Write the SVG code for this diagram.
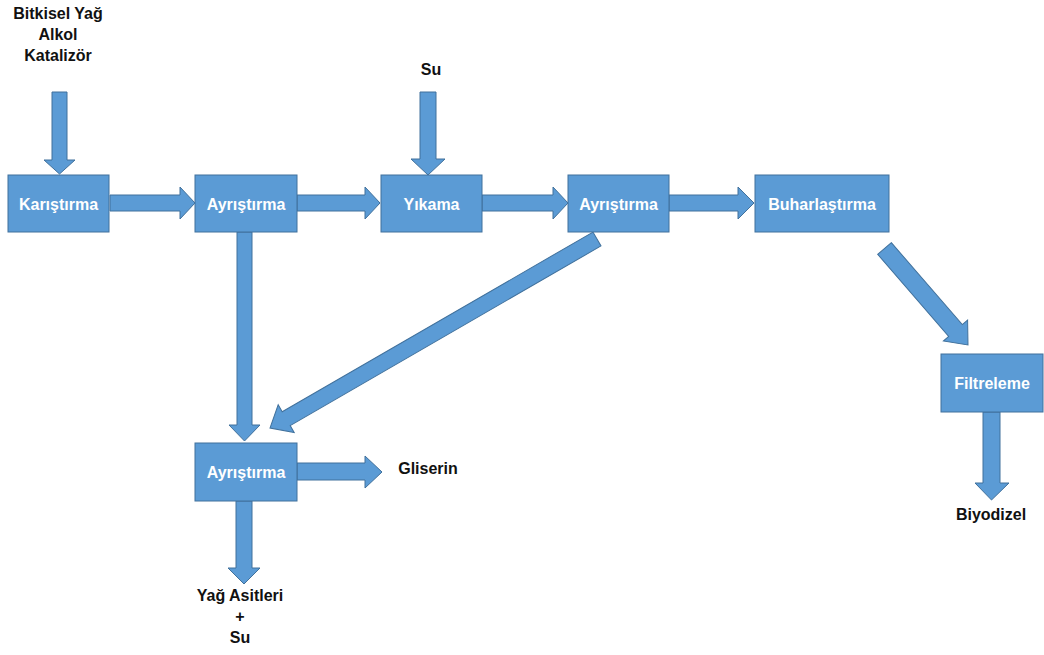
<svg xmlns="http://www.w3.org/2000/svg" width="1044" height="655" viewBox="0 0 1044 655">
<style>
.box{fill:#5B9BD5;stroke:#41719C;stroke-width:1}
.arr{fill:#5B9BD5;stroke:#41719C;stroke-width:1;stroke-linejoin:miter}
.bt{font-family:"Liberation Sans",Arial,sans-serif;font-weight:bold;font-size:16px;fill:#ffffff;text-anchor:middle}
.lb{font-family:"Liberation Sans",Arial,sans-serif;font-weight:bold;font-size:16px;fill:#111111;text-anchor:middle}
</style>
<rect width="1044" height="655" fill="#ffffff"/>
<g id="connectors">
<polygon class="arr" points="52,92 67,92 67,160 75,160 59.5,174 44,160 52,160"/>
<polygon class="arr" points="110,195 180,195 180,187 195,203 180,219 180,211 110,211"/>
<polygon class="arr" points="297,195 365,195 365,187 380,203 365,219 365,211 297,211"/>
<polygon class="arr" points="482,195 553,195 553,187 568,203 553,219 553,211 482,211"/>
<polygon class="arr" points="669,195 738,195 738,187 754,203 738,219 738,211 669,211"/>
<polygon class="arr" points="420,92 436,92 436,159 445,159 428,175 411,159 420,159"/>
<polygon class="arr" points="237,232 252,232 252,425 260,425 244.5,441 229,425 237,425"/>
<polygon class="arr" points="297,463 365,463 365,456 382,472 365,488 365,480 297,480"/>
<polygon class="arr" points="236,501 252,501 252,568 260,568 244,584 228,568 236,568"/>
<polygon class="arr" points="983,412 1000,412 1000,483 1009,483 991.5,500 975,483 983,483"/>
<polygon class="arr" transform="translate(597,239) rotate(149.97)" points="0,-8 359,-8 359,-16 377.7,0 359,16 359,8 0,8"/>
<polygon class="arr" transform="translate(884.5,248.5) rotate(49.13)" points="0,-9 108.5,-9 108.5,-16 127.6,0 108.5,16 108.5,9 0,9"/>
</g>
<g id="n-inputs">
<text class="lb" x="58" y="19">Bitkisel Yağ</text>
<text class="lb" x="58" y="40">Alkol</text>
<text class="lb" x="58" y="61">Katalizör</text>
</g>
<g id="n-su"><text class="lb" x="431" y="75">Su</text></g>
<g id="n-karistirma"><rect class="box" x="8" y="175" width="101" height="57"/><text class="bt" x="58.5" y="209.5">Karıştırma</text></g>
<g id="n-ayristirma1"><rect class="box" x="195" y="175" width="102" height="57"/><text class="bt" x="246" y="209.5">Ayrıştırma</text></g>
<g id="n-yikama"><rect class="box" x="381" y="175" width="101" height="57"/><text class="bt" x="431.5" y="209.5">Yıkama</text></g>
<g id="n-ayristirma2"><rect class="box" x="568" y="175" width="101" height="57"/><text class="bt" x="618.5" y="209.5">Ayrıştırma</text></g>
<g id="n-buharlastirma"><rect class="box" x="755" y="175" width="134" height="57"/><text class="bt" x="822" y="209.5">Buharlaştırma</text></g>
<g id="n-filtreleme"><rect class="box" x="941" y="354" width="102" height="58"/><text class="bt" x="992" y="388.5">Filtreleme</text></g>
<g id="n-ayristirma3"><rect class="box" x="195" y="443" width="102" height="58"/><text class="bt" x="246" y="477.5">Ayrıştırma</text></g>
<g id="n-gliserin"><text class="lb" x="428" y="474">Gliserin</text></g>
<g id="n-biyodizel"><text class="lb" x="991" y="520">Biyodizel</text></g>
<g id="n-yagasitleri">
<text class="lb" x="240" y="601">Yağ Asitleri</text>
<text class="lb" x="240" y="622">+</text>
<text class="lb" x="240" y="643">Su</text>
</g>
</svg>
